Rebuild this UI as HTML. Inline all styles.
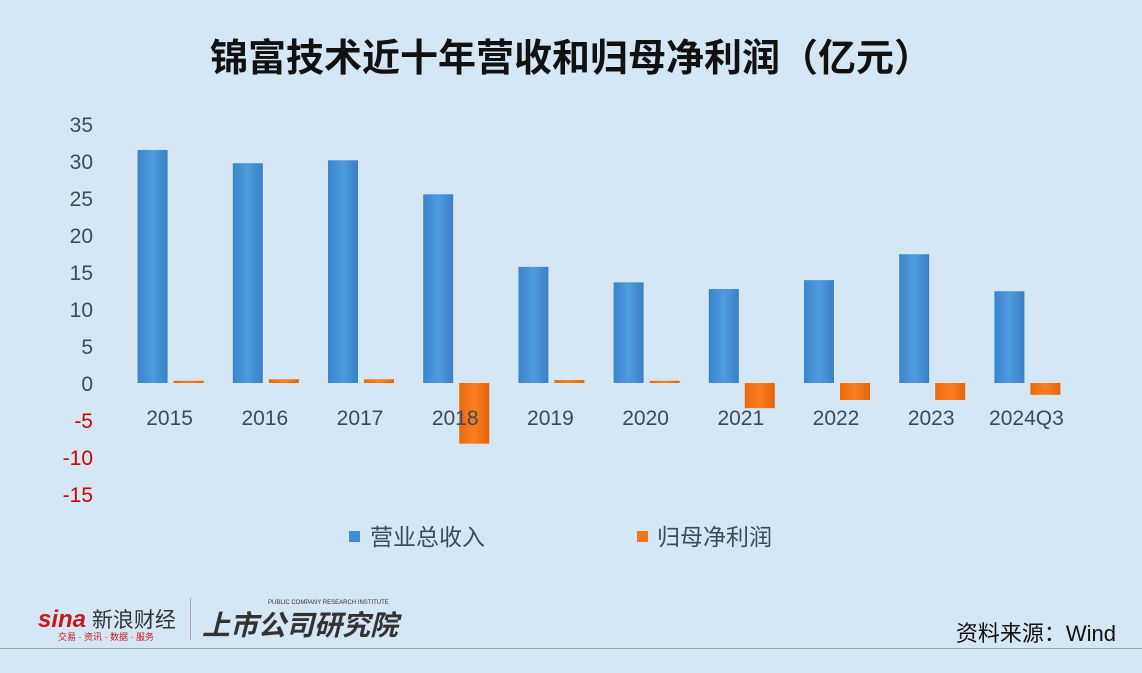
<!DOCTYPE html>
<html><head><meta charset="utf-8">
<style>
html,body{margin:0;padding:0;}
body{width:1142px;height:673px;background:#d5e7f5;font-family:"Liberation Sans","Noto Sans CJK SC",sans-serif;position:relative;overflow:hidden;}
.t{position:absolute;white-space:nowrap;}
</style></head>
<body>
<div class="t" style="left:0;width:1142px;text-align:center;top:27px;font-size:38px;font-weight:bold;color:#111;font-family:'Liberation Sans','Noto Sans CJK SC',sans-serif;">锦富技术近十年营收和归母净利润（亿元）</div>
<svg id="chart" width="1142" height="673" style="position:absolute;left:0;top:0">
<defs>
<linearGradient id="gb" x1="0" x2="1" y1="0" y2="0"><stop offset="0" stop-color="#3a84cc"/><stop offset="0.5" stop-color="#4d9be0"/><stop offset="1" stop-color="#3a80c6"/></linearGradient>
<linearGradient id="go" x1="0" x2="1" y1="0" y2="0"><stop offset="0" stop-color="#e9690f"/><stop offset="0.5" stop-color="#fb7f1e"/><stop offset="1" stop-color="#e3640c"/></linearGradient>
</defs>
</svg>
<div class="t" style="right:26px;top:616px;font-size:22px;color:#111;">资料来源：Wind</div>
<div class="t" style="left:38px;top:604px;font-size:24px;font-weight:bold;color:#c8161d;font-style:italic;">sina<span style="color:#333;font-weight:normal;font-style:normal;font-size:21px;"> 新浪财经</span></div>
<div class="t" style="left:58px;top:630px;font-size:9px;color:#c8161d;">交易 · 资讯 · 数据 · 服务</div>
<div style="position:absolute;left:190px;top:598px;width:1px;height:42px;background:#aab;"></div>
<div class="t" style="left:202px;top:604px;font-size:28px;font-weight:bold;color:#333;font-style:italic;">上市公司研究院</div>
<div class="t" style="left:268px;top:600px;font-size:6px;color:#333;">PUBLIC COMPANY RESEARCH INSTITUTE</div>
<div style="position:absolute;left:0;top:648px;width:1142px;height:1px;background:#9aa;"></div>
<script>
const categories=["2015","2016","2017","2018","2019","2020","2021","2022","2023","2024Q3"];
const revenue=[31.5,29.7,30.1,25.5,15.7,13.6,12.7,13.9,17.4,12.4];
const profit=[0.3,0.5,0.5,-8.2,0.4,0.3,-3.4,-2.3,-2.3,-1.6];
const ticks=[35,30,25,20,15,10,5,0,-5,-10,-15];
const svg=document.getElementById('chart');
const NS='http://www.w3.org/2000/svg';
const y=v=>383-v*7.4;
const x0=122, step=95.2;
const cx=i=>x0+step*(i+0.5);
function mk(t,a){const e=document.createElementNS(NS,t);for(const k in a)e.setAttribute(k,a[k]);svg.appendChild(e);return e;}
ticks.forEach(v=>{const e=mk('text',{x:93,y:y(v)+8,'text-anchor':'end','font-size':21,fill:v<0?'#d00000':'#3c4a5a','font-family':'Liberation Sans,sans-serif'});e.textContent=v;

});
categories.forEach((c,i)=>{
const r=revenue[i],p=profit[i];
const b=mk('rect',{x:cx(i)-32,y:Math.min(y(r),y(0)),width:30,height:Math.abs(y(r)-y(0)),fill:'url(#gb)'});


const o=mk('rect',{x:cx(i)+4,y:Math.min(y(p),y(0)),width:30,height:Math.max(2,Math.abs(y(p)-y(0))),fill:'url(#go)'});


const t=mk('text',{x:cx(i),y:425,'text-anchor':'middle','font-size':21,fill:'#3c4a5a','font-family':'Liberation Sans,sans-serif'});t.textContent=c;


});
const l1=mk('rect',{x:349,y:531,width:11,height:11,fill:'#3f8cd6'});


const lt1=mk('text',{x:370,y:545,'font-size':23,fill:'#3c4a5a','font-family':'Liberation Sans,Noto Sans CJK SC,sans-serif'});lt1.textContent='营业总收入';


const l2=mk('rect',{x:637,y:531,width:11,height:11,fill:'#f2741a'});


const lt2=mk('text',{x:657,y:545,'font-size':23,fill:'#3c4a5a','font-family':'Liberation Sans,Noto Sans CJK SC,sans-serif'});lt2.textContent='归母净利润';


</script>
</body></html>
